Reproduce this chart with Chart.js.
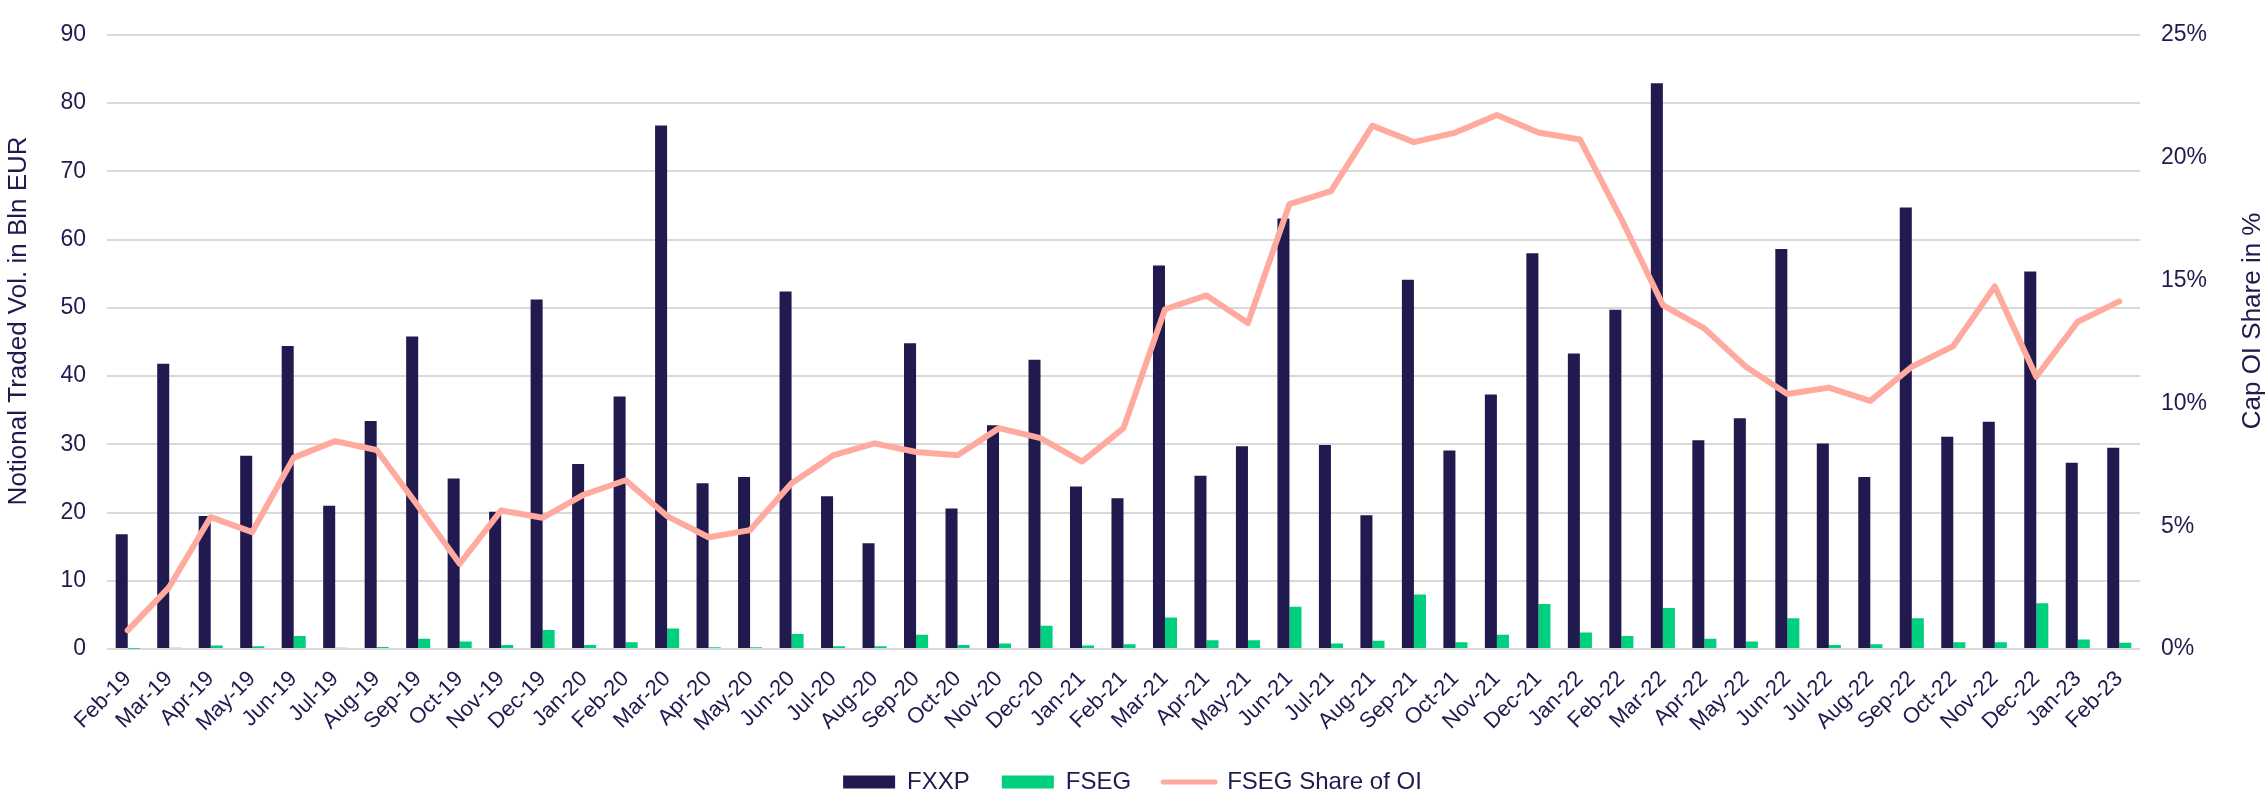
<!DOCTYPE html>
<html>
<head>
<meta charset="utf-8">
<script src="https://cdn.jsdelivr.net/npm/chart.js@4"></script>
<style>
  html, body { margin: 0; padding: 0; background: #ffffff; }
  #c { display: block; }
</style>
</head>
<body>
<canvas id="c" width="2265" height="799"></canvas>
<script>
// ---- data ----
const categories = [
  'Feb-19','Mar-19','Apr-19','May-19','Jun-19','Jul-19','Aug-19','Sep-19','Oct-19','Nov-19','Dec-19',
  'Jan-20','Feb-20','Mar-20','Apr-20','May-20','Jun-20','Jul-20','Aug-20','Sep-20','Oct-20','Nov-20','Dec-20',
  'Jan-21','Feb-21','Mar-21','Apr-21','May-21','Jun-21','Jul-21','Aug-21','Sep-21','Oct-21','Nov-21','Dec-21',
  'Jan-22','Feb-22','Mar-22','Apr-22','May-22','Jun-22','Jul-22','Aug-22','Sep-22','Oct-22','Nov-22','Dec-22',
  'Jan-23','Feb-23'
];
const fxxp = [
  16.8, 41.8, 19.5, 28.3, 44.4, 21.0, 33.4, 45.8, 25.0, 20.1, 51.2,
  27.1, 37.0, 76.7, 24.3, 25.2, 52.4, 22.4, 15.5, 44.8, 20.6, 32.8, 42.4,
  23.8, 22.1, 56.2, 25.4, 29.7, 63.1, 29.9, 19.6, 54.1, 29.1, 37.3, 58.0,
  43.3, 49.7, 82.9, 30.6, 33.8, 58.6, 30.1, 25.2, 64.7, 31.1, 33.3, 55.3,
  27.3, 29.5
];
const fseg = [
  0.05, 0.2, 0.5, 0.4, 1.9, 0.2, 0.3, 1.5, 1.1, 0.6, 2.8,
  0.6, 1.0, 3.0, 0.25, 0.25, 2.2, 0.4, 0.4, 2.1, 0.6, 0.8, 3.4,
  0.5, 0.7, 4.6, 1.3, 1.3, 6.2, 0.8, 1.2, 8.0, 1.0, 2.1, 6.6,
  2.4, 1.9, 6.0, 1.5, 1.1, 4.5, 0.6, 0.7, 4.5, 1.0, 1.0, 6.7,
  1.4, 0.9
];
const fsegShare = [
  0.76, 2.52, 5.37, 4.76, 7.79, 8.46, 8.10, 5.81, 3.47, 5.64, 5.34,
  6.29, 6.87, 5.41, 4.55, 4.84, 6.75, 7.88, 8.37, 8.02, 7.89, 8.99, 8.58,
  7.63, 8.99, 13.83, 14.39, 13.27, 18.11, 18.64, 21.30, 20.63, 21.02, 21.74, 21.02,
  20.74, 17.5, 14.0, 13.05, 11.49, 10.38, 10.64, 10.10, 11.49, 12.33, 14.76, 11.08,
  13.32, 14.15
];
const seriesNames = ['FXXP', 'FSEG', 'FSEG Share of OI'];
const leftTitle = 'Notional Traded Vol. in Bln EUR';
const rightTitle = 'Cap OI Share in %';
const leftTicks = { min: 0, max: 90, step: 10 };
const rightTicks = { min: 0, max: 25, step: 5 };

// ---- styles ----
const TEXT = '#211a4f';
const NAVY = '#211a4f';
const GREEN = '#00cf7d';
const PINK = '#ffaa9f';
const GRID = '#d9d9d9';
const FAMILY = '"Liberation Sans", Arial, Helvetica, sans-serif';

Chart.defaults.font.family = FAMILY;
Chart.defaults.color = TEXT;

const axisTitlePlugin = {
  id: 'axisTitles',
  afterDraw(chart) {
    const { ctx, chartArea, width } = chart;
    const cy = (chartArea.top + chartArea.bottom) / 2 - 21;
    ctx.save();
    ctx.fillStyle = TEXT;
    ctx.font = '26px ' + FAMILY;
    ctx.textAlign = 'center';
    ctx.textBaseline = 'middle';
    ctx.save();
    ctx.translate(18.5, cy);
    ctx.rotate(-Math.PI / 2);
    ctx.fillText(leftTitle, 0, 0);
    ctx.restore();
    ctx.save();
    ctx.translate(width - 12, cy);
    ctx.rotate(-Math.PI / 2);
    ctx.fillText(rightTitle, 0, 0);
    ctx.restore();
    ctx.restore();
  }
};

new Chart(document.getElementById('c'), {
  data: {
    labels: categories,
    datasets: [
      {
        type: 'bar', label: seriesNames[0], data: fxxp, yAxisID: 'y',
        backgroundColor: NAVY, borderWidth: 0,
        categoryPercentage: 0.58, barPercentage: 1.0, order: 1
      },
      {
        type: 'bar', label: seriesNames[1], data: fseg, yAxisID: 'y',
        backgroundColor: GREEN, borderWidth: 0,
        categoryPercentage: 0.58, barPercentage: 1.0, order: 1
      },
      {
        type: 'line', label: seriesNames[2], data: fsegShare, yAxisID: 'y1',
        borderColor: PINK, backgroundColor: PINK, borderWidth: 6,
        pointRadius: 0, tension: 0, fill: false, order: 0,
        borderJoinStyle: 'round', borderCapStyle: 'round'
      }
    ]
  },
  options: {
    responsive: false,
    animation: false,
    events: [],
    layout: { padding: { top: 16, bottom: -5, left: 0, right: 0 } },
    plugins: {
      tooltip: { enabled: false },
      legend: {
        position: 'bottom',
        labels: {
          usePointStyle: true,
          pointStyleWidth: 52,
          boxWidth: 52,
          boxHeight: 13,
          padding: 32,
          color: TEXT,
          font: { size: 24, family: FAMILY },
          generateLabels(chart) {
            return chart.data.datasets.map((ds, i) => {
              const isLine = ds.type === 'line';
              const col = isLine ? ds.borderColor : ds.backgroundColor;
              return {
                text: ds.label,
                fillStyle: col,
                strokeStyle: col,
                lineWidth: isLine ? 5 : 0,
                lineCap: 'round',
                pointStyle: isLine ? 'line' : 'rect',
                hidden: false,
                datasetIndex: i,
                fontColor: TEXT
              };
            });
          }
        }
      }
    },
    scales: {
      x: {
        grid: { display: false, drawTicks: false },
        border: { display: false },
        ticks: {
          autoSkip: false, maxRotation: 45, minRotation: 45, padding: 17,
          color: TEXT, font: { size: 22 }
        },
        afterFit(s) { s.height = 89; }
      },
      y: {
        position: 'left',
        min: leftTicks.min, max: leftTicks.max,
        ticks: { stepSize: leftTicks.step, padding: 21, color: TEXT, font: { size: 23 } },
        grid: { color: GRID, lineWidth: 2, drawTicks: false },
        border: { display: false },
        afterFit(s) { s.width = 107; }
      },
      y1: {
        position: 'right',
        min: rightTicks.min, max: rightTicks.max,
        ticks: {
          stepSize: rightTicks.step, padding: 21, color: TEXT, font: { size: 23 },
          callback: v => v + '%'
        },
        grid: { display: false, drawTicks: false },
        border: { display: false },
        afterFit(s) { s.width = 125; }
      }
    }
  },
  plugins: [axisTitlePlugin]
});
</script>
</body>
</html>
